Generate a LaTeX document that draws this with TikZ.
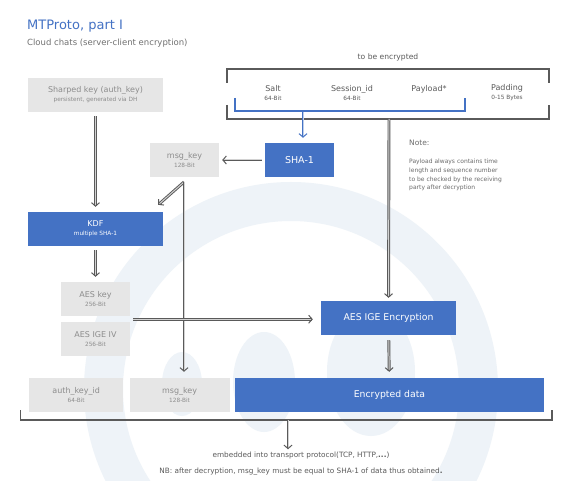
\documentclass[tikz,border=0pt]{standalone}
\usepackage{fontspec}
\setmainfont{DejaVu Sans}
\usepackage{xcolor}
\usetikzlibrary{arrows.meta,positioning,calc}

\definecolor{mtblue}{HTML}{4472C4}
\definecolor{boxgray}{HTML}{E6E6E6}
\definecolor{txtgray}{HTML}{8C8C8C}
\definecolor{linegray}{HTML}{5A5A5A}
\definecolor{wmark}{HTML}{EEF3F8}

\newcommand{\smalltxt}[1]{{\fontsize{5.8}{6.5}\selectfont #1}}

\begin{document}
\begin{tikzpicture}[
  x=1pt, y=-1pt,
  bluebox/.style={fill=mtblue, text=white, minimum height=34pt, align=center, inner sep=0pt, font=\fontsize{8}{9}\selectfont},
  graybox/.style={fill=boxgray, text=txtgray, minimum height=34pt, align=center, inner sep=0pt, font=\fontsize{8}{9}\selectfont},
  lbl/.style={align=center, text=linegray, inner sep=0pt, font=\fontsize{8}{9}\selectfont},
  arr/.style={draw=linegray, double=gray!35, double distance=1pt, line width=0.95pt, -{Straight Barb[length=3.5pt, width=8pt, line width=1pt]}},
  bluearr/.style={draw=mtblue, double=mtblue!35, double distance=1pt, line width=0.95pt, -{Straight Barb[length=3.5pt, width=8pt, line width=1pt]}},
  brack/.style={draw=linegray, line width=1.4pt}
]
  \useasboundingbox (0,0) rectangle (584,481);
  \fill[white] (0,0) rectangle (584,481);

  % watermark
  \begin{scope}
    \clip (0,0) rectangle (584,481);
    \fill[wmark, even odd rule] (291,389) circle[radius=207pt] (291,389) circle[radius=168pt];
    \fill[wmark] (182,384) ellipse[x radius=20pt, y radius=32pt];
    \fill[wmark] (264,382) ellipse[x radius=31pt, y radius=50pt];
    \fill[wmark] (371,372) ellipse[x radius=44pt, y radius=64pt];
  \end{scope}

  \node[anchor=west, inner sep=0pt, text=mtblue, font=\fontsize{13}{15}\selectfont] (title) at (27,26) {MTProto, part I};
  \node[anchor=west, inner sep=0pt, text=txtgray!80!black, font=\fontsize{8.5}{10}\selectfont] (subtitle) at (27,43) {Cloud chats (server-client encryption)};

  % message to be encrypted
  \node[lbl, font=\fontsize{7.6}{9}\selectfont] (tobeenc) at (388,57) {to be encrypted};
  \draw[brack] (227,83) -- (227,69) -- (549,69) -- (549,83);
  \draw[brack] (227,105) -- (227,119) -- (549,119) -- (549,105);
  \node[lbl] (salt) at (273,93) {Salt\\\smalltxt{64-Bit}};
  \node[lbl] (session) at (352,93) {Session\_id\\\smalltxt{64-Bit}};
  \node[lbl] (payload) at (429,89) {Payload*};
  \node[lbl] (padding) at (507,93) {Padding\\\smalltxt{0-15 Bytes}};
  \draw[mtblue, line width=1.3pt] (235,98) -- (235,111) -- (465,111) -- (465,98);
  \coordinate (hashin) at (303,111);
  \coordinate (encin) at (389,119);

  \node[graybox, minimum width=135pt] (sharedkey) at (95.5,95) {Sharped key (auth\_key)\\\smalltxt{persistent, generated via DH}};
  \node[bluebox, minimum width=69pt, font=\fontsize{9.5}{11}\selectfont] (sha) at (299.5,160) {SHA-1};
  \node[graybox, minimum width=69pt] (msgkey) at (184.5,160) {msg\_key\\\smalltxt{128-Bit}};
  \node[bluebox, minimum width=135pt] (kdf) at (95.5,229) {KDF\\\smalltxt{multiple SHA-1}};
  \node[graybox, minimum width=69pt] (aeskey) at (95.5,299) {AES key\\\smalltxt{256-Bit}};
  \node[graybox, minimum width=69pt, below=6pt of aeskey] (aesiv) {AES IGE IV\\\smalltxt{256-Bit}};
  \node[bluebox, minimum width=135pt, font=\fontsize{9.3}{11}\selectfont] (aesenc) at (388.5,318) {AES IGE Encryption};
  \node[bluebox, minimum width=309pt, font=\fontsize{9.3}{11}\selectfont] (encdata) at (389.5,395) {Encrypted data};
  \node[graybox, minimum width=100pt, left=5pt of encdata] (msgkeyout) {msg\_key\\\smalltxt{128-Bit}};
  \node[graybox, minimum width=94pt, left=6pt of msgkeyout] (authid) {auth\_key\_id\\\smalltxt{64-Bit}};

  \node[anchor=west, inner sep=0pt, text=linegray!90, font=\fontsize{7.5}{9}\selectfont] (note) at (409,143) {Note:};
  \node[anchor=north west, inner sep=0pt, align=left, text=linegray!90, font=\fontsize{6}{8.7}\selectfont] (notetext) at (409,159) {Payload always contains time\\length and sequence number\\to be checked by the receiving\\party after decryption};

  % transport
  \draw[brack] (20.5,410) -- (20.5,420) -- (552,420) -- (552,410);
  \coordinate (packout) at (288,420);
  \node[lbl, font=\fontsize{7.3}{9}\selectfont] (embed) at (301,455) {embedded into transport protocol(TCP, HTTP,\textbf{...})};
  \node[lbl, font=\fontsize{7.3}{9}\selectfont] (nb) at (301,472) {NB: after decryption, msg\_key must be equal to SHA-1 of data thus obtained\textbf{.}};

  \draw[bluearr, shorten <=1pt, shorten >=5pt] (hashin) -- (hashin |- sha.north);
  \draw[arr, shorten <=4pt, shorten >=5pt] (sharedkey) -- (kdf);
  \draw[arr, shorten <=3pt, shorten >=3pt] (sha) -- (msgkey);
  \coordinate (msgsplit) at (184,182);
  \draw[arr] (msgsplit) -- ([shift={(-5pt,7pt)}]kdf.north east);
  \draw[arr] (msgsplit) -- ([yshift=6pt]msgsplit |- msgkeyout.north);
  \draw[arr, shorten <=4pt, shorten >=5pt] (kdf) -- (aeskey);
  \coordinate (aesout) at ($(aeskey.south east)!0.5!(aesiv.north east)$);
  \draw[arr, shorten <=3pt, shorten >=8pt] (aesout) -- (aesout -| aesenc.west);
  \draw[arr, shorten >=3pt] (encin) -- (aesenc);
  \draw[arr, shorten <=5pt, shorten >=6pt] (aesenc) -- (encdata);
  \draw[arr, shorten >=2pt] (packout) -- (packout |- embed.north);
\end{tikzpicture}
\end{document}
